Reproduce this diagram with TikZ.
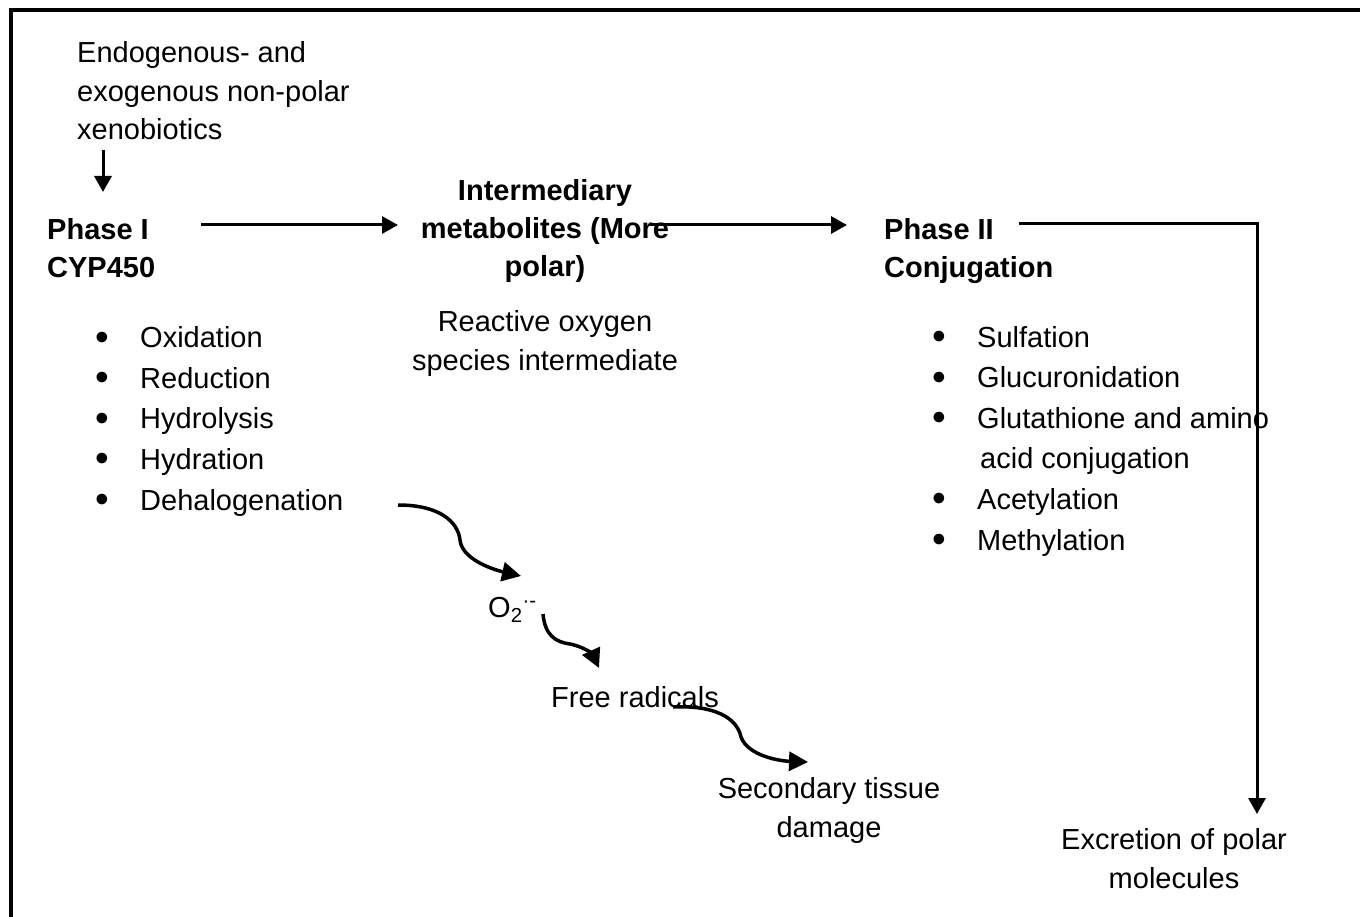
\documentclass[tikz,border=0pt]{standalone}
\usepackage{fontspec}
\setmainfont{Liberation Sans}
\usetikzlibrary{arrows.meta}
\newcommand\bul{\makebox[45pt][l]{\raisebox{-2.5pt}{\scalebox{1.35}{\textbullet}}}}
\newcommand\nobul{\makebox[48pt][l]{}}
\begin{document}
\begin{tikzpicture}[x=1pt,y=-1pt,
  txt/.style={inner sep=0pt, font=\fontsize{29}{38.5}\selectfont},
  bld/.style={inner sep=0pt, font=\fontsize{29}{38.5}\selectfont\bfseries},
  lst/.style={inner sep=0pt, font=\fontsize{29}{40.6}\selectfont, align=left, anchor=base west},
  arr/.style={line width=3pt, -{Triangle[length=16pt,width=17pt]}},
  warr/.style={line width=3.5pt, -{Triangle[length=19pt,width=19pt]}},
  frame/.style={line width=4pt}]
\useasboundingbox (0,0) rectangle (1360,917);
\draw[frame] (11,917) -- (11,10.5) -- (1360,10.5);

\node[txt, align=left, anchor=base west] (src) at (77,140) {Endogenous- and\\exogenous non-polar\\xenobiotics};
\node[bld, align=left, anchor=base west] (ph1) at (47,278) {Phase I\\CYP450};
\node[bld, align=center, anchor=base] (inter) at (545,277) {Intermediary\\metabolites (More\\polar)};
\node[txt, align=center, anchor=base] (ros) at (545,370) {Reactive oxygen\\species intermediate};
\node[bld, align=left, anchor=base west] (ph2) at (884,278) {Phase II\\Conjugation};
\node[lst] (l1) at (95,510) {\bul Oxidation\\\bul Reduction\\\bul Hydrolysis\\\bul Hydration\\\bul Dehalogenation};
\node[lst] (l2) at (932,550) {\bul Sulfation\\\bul Glucuronidation\\\bul Glutathione and amino\\\nobul acid conjugation\\\bul Acetylation\\\bul Methylation};
\node[txt, anchor=base west] (o2) at (488,617) {O\textsubscript{2}\textsuperscript{·-}};
\node[txt, anchor=base west] (fr) at (551,707) {Free radicals};
\node[txt, align=center, anchor=base] (sec) at (829,837) {Secondary tissue\\damage};
\node[txt, align=center, anchor=base] (exc) at (1174,888) {Excretion of polar\\molecules};

\coordinate (a1s) at (103,150);
\coordinate (a1e) at (103,192);
\coordinate (a2s) at (201,225);
\coordinate (a2e) at (398,225);
\coordinate (a3s) at (650,225);
\coordinate (a3e) at (847,225);
\coordinate (a4s) at (1019,224);
\coordinate (a4c) at (1257,224);
\coordinate (a4e) at (1257,814);

\draw[arr] (a1s) -- (a1e);
\draw[arr] (a2s) -- (a2e);
\draw[arr] (a3s) -- (a3e);
\draw[arr] (a4s) -- (a4c) -- (a4e);

\coordinate (w1s) at (398,505);
\coordinate (w1m) at (460,540);
\coordinate (w1e) at (521,576);
\draw[warr] (w1s) .. controls (440,505) and (458,522) .. (w1m) .. controls (462,560) and (495,570) .. (w1e);
\coordinate (w2s) at (543,614);
\coordinate (w2m) at (570,644);
\coordinate (w2e) at (599,668);
\draw[warr] (w2s) .. controls (545,635) and (555,642) .. (w2m) .. controls (585,647) and (593,655) .. (w2e);
\coordinate (w3s) at (673,707);
\coordinate (w3m) at (741,737);
\coordinate (w3e) at (808,762);
\draw[warr] (w3s) .. controls (715,705) and (737,718) .. (w3m) .. controls (748,756) and (780,761) .. (w3e);
\end{tikzpicture}
\end{document}
